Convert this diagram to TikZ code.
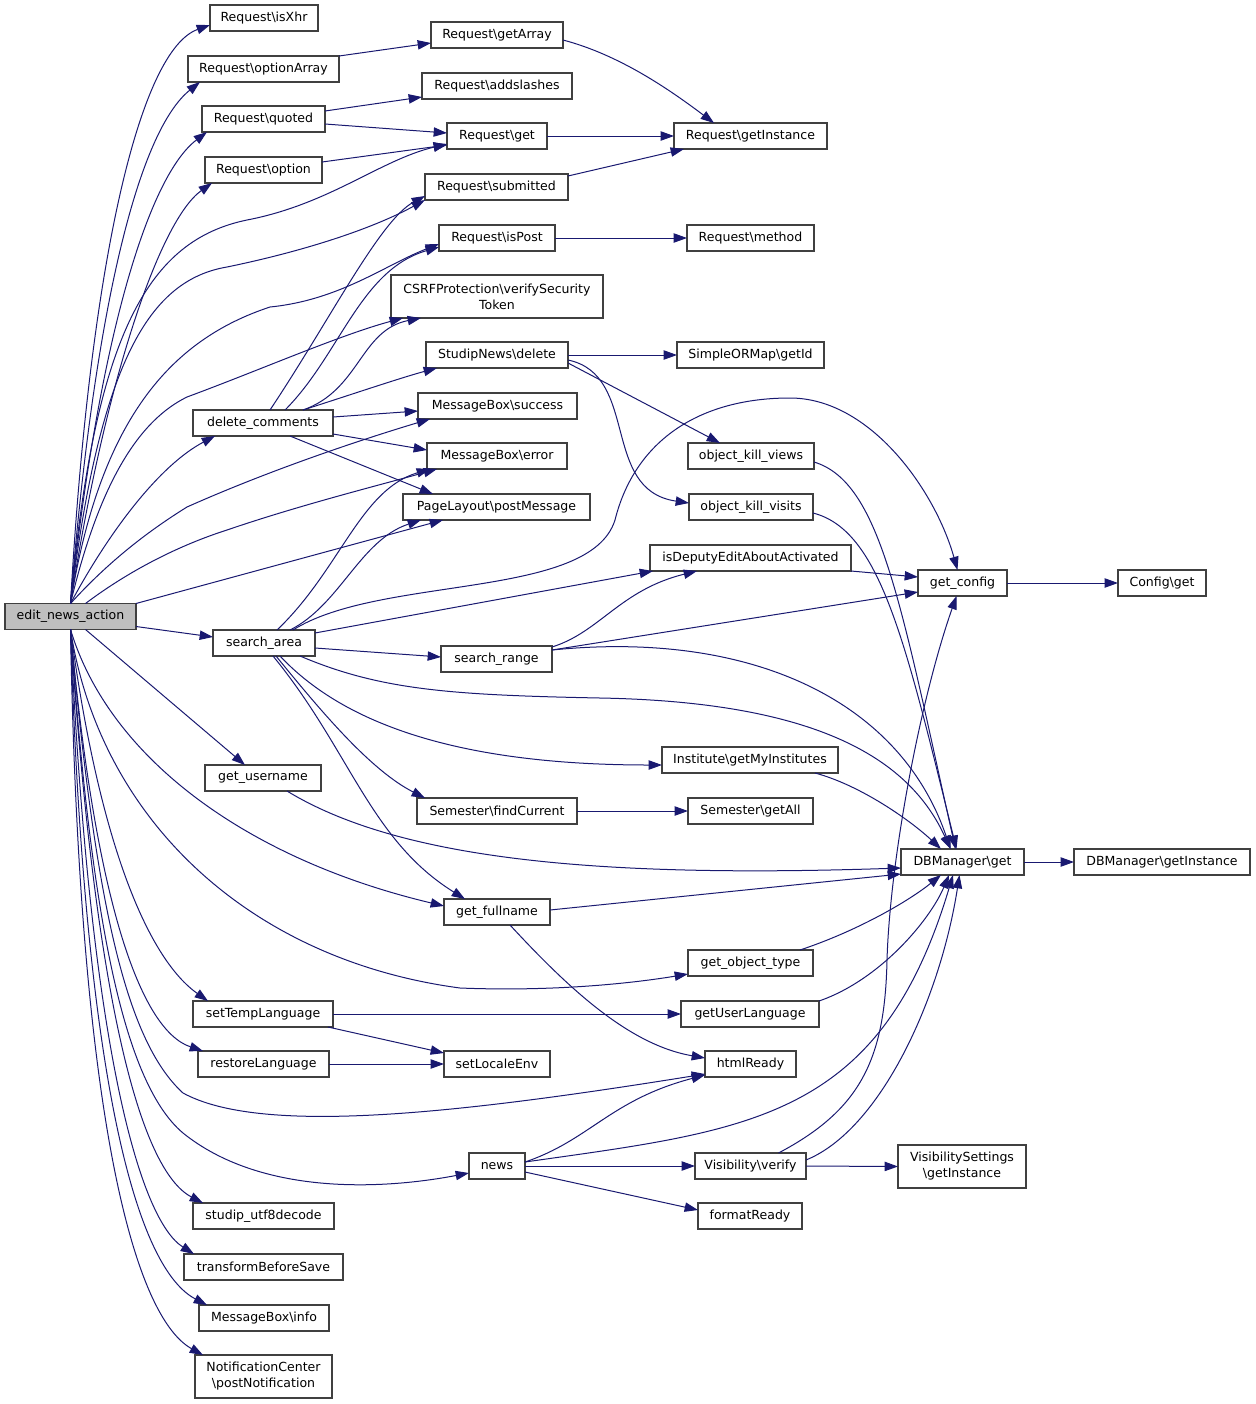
\documentclass[tikz,border=0pt]{standalone}
\usepackage{fontspec}
\setmainfont{DejaVu Sans}
\usetikzlibrary{arrows.meta,calc}
\newlength{\pxu}\setlength{\pxu}{0.75pt}
\newcommand{\fnfont}{\fontsize{9.4}{12}\selectfont}
\definecolor{edgec}{HTML}{191970}
\definecolor{boxc}{HTML}{404040}
\definecolor{rootc}{HTML}{BFBFBF}
\tikzset{
  fn/.style={draw=boxc, fill=white, line width=0.8pt, inner sep=0pt, outer sep=0pt,
    minimum height=26\pxu, font=\fnfont, align=center},
  fn2/.style={fn, minimum height=43\pxu},
  ed/.style={draw=edgec, line width=0.75pt, -{Triangle[length=10pt,width=7pt]}}
}
\begin{document}
\begin{tikzpicture}[x=0.75pt, y=-0.75pt]
\path[use as bounding box] (0,0) rectangle (1256,1404);
% nodes
\node[fn, fill=rootc, minimum width=131\pxu] (ena) at (70.5,616.5) {edit\_news\_action};
\node[fn, minimum width=108\pxu] (isxhr) at (264,18) {Request\textbackslash isXhr};
\node[fn, minimum width=151\pxu] (opta) at (263.5,69) {Request\textbackslash optionArray};
\node[fn, minimum width=132\pxu] (garr) at (497,35) {Request\textbackslash getArray};
\node[fn, minimum width=150\pxu] (addsl) at (497,86) {Request\textbackslash addslashes};
\node[fn, minimum width=123\pxu] (quoted) at (263.5,119) {Request\textbackslash quoted};
\node[fn, minimum width=100\pxu] (rget) at (497,136) {Request\textbackslash get};
\node[fn, minimum width=153\pxu] (rgi) at (750.5,136) {Request\textbackslash getInstance};
\node[fn, minimum width=117\pxu] (option) at (263.5,170) {Request\textbackslash option};
\node[fn, minimum width=143\pxu] (subm) at (496.5,187) {Request\textbackslash submitted};
\node[fn, minimum width=116\pxu] (ispost) at (497,238) {Request\textbackslash isPost};
\node[fn, minimum width=127\pxu] (method) at (750.5,238) {Request\textbackslash method};
\node[fn2, minimum width=212\pxu] (csrf) at (497,296.5) {CSRFProtection\textbackslash verifySecurity\\Token};
\node[fn, minimum width=142\pxu] (snd) at (497,355) {StudipNews\textbackslash delete};
\node[fn, minimum width=147\pxu] (getid) at (750.5,355) {SimpleORMap\textbackslash getId};
\node[fn, minimum width=140\pxu] (dc) at (263,423) {delete\_comments};
\node[fn, minimum width=159\pxu] (succ) at (497.5,406) {MessageBox\textbackslash success};
\node[fn, minimum width=140\pxu] (err) at (497,456) {MessageBox\textbackslash error};
\node[fn, minimum width=187\pxu] (pm) at (496.5,507) {PageLayout\textbackslash postMessage};
\node[fn, minimum width=126\pxu] (okv) at (751,456) {object\_kill\_views};
\node[fn, minimum width=124\pxu] (okvi) at (751,507) {object\_kill\_visits};
\node[fn, minimum width=201\pxu] (ida) at (750.5,558) {isDeputyEditAboutActivated};
\node[fn, minimum width=89\pxu] (gc) at (962.5,583) {get\_config};
\node[fn, minimum width=88\pxu] (cfg) at (1162,583) {Config\textbackslash get};
\node[fn, minimum width=102\pxu] (sa) at (264,643) {search\_area};
\node[fn, minimum width=111\pxu] (sr) at (496.5,659) {search\_range};
\node[fn, minimum width=176\pxu] (inst) at (750,760) {Institute\textbackslash getMyInstitutes};
\node[fn, minimum width=116\pxu] (gu) at (263,778) {get\_username};
\node[fn, minimum width=160\pxu] (sfc) at (497,811) {Semester\textbackslash findCurrent};
\node[fn, minimum width=125\pxu] (sga) at (750.5,811) {Semester\textbackslash getAll};
\node[fn, minimum width=123\pxu] (dbm) at (962.5,862) {DBManager\textbackslash get};
\node[fn, minimum width=176\pxu] (dbgi) at (1162,862) {DBManager\textbackslash getInstance};
\node[fn, minimum width=106\pxu] (gf) at (497,912) {get\_fullname};
\node[fn, minimum width=125\pxu] (got) at (750.5,963) {get\_object\_type};
\node[fn, minimum width=140\pxu] (stl) at (263,1014) {setTempLanguage};
\node[fn, minimum width=138\pxu] (gul) at (750,1014) {getUserLanguage};
\node[fn, minimum width=131\pxu] (rl) at (263.5,1064) {restoreLanguage};
\node[fn, minimum width=106\pxu] (sle) at (497,1064) {setLocaleEnv};
\node[fn, minimum width=91\pxu] (hr) at (750.5,1064) {htmlReady};
\node[fn, minimum width=56\pxu] (news) at (497,1166) {news};
\node[fn, minimum width=111\pxu] (vv) at (750.5,1166) {Visibility\textbackslash verify};
\node[fn2, minimum width=128\pxu] (vs) at (962,1166.5) {VisibilitySettings\\\textbackslash getInstance};
\node[fn, minimum width=104\pxu] (fr) at (750,1216) {formatReady};
\node[fn, minimum width=141\pxu] (utf) at (263.5,1216) {studip\_utf8decode};
\node[fn, minimum width=159\pxu] (tbs) at (263.5,1267) {transformBeforeSave};
\node[fn, minimum width=130\pxu] (info) at (264,1318) {MessageBox\textbackslash info};
\node[fn2, minimum width=137\pxu] (nc) at (263.5,1376.5) {NotificationCenter\\\textbackslash postNotification};
% edges from edit_news_action (upwards)
\draw[ed] (ena.north) .. controls (90,260) and (140,50) .. ($(isxhr.west)+(0,7)$);
\draw[ed] (ena.north) .. controls (95,300) and (140,130) .. ($(opta.south west)+(12,0)$);
\draw[ed] (ena.north) .. controls (100,330) and (150,175) .. ($(quoted.south west)+(5,0)$);
\draw[ed] (ena.north) .. controls (105,380) and (160,220) .. ($(option.south west)+(7,0)$);
\draw[ed] (ena.north) .. controls (95,330) and (150,240) .. (247,220) .. controls (330,204) and (380,160) .. ($(rget.west)+(0,8)$);
\draw[ed] (ena.north) .. controls (100,360) and (150,280) .. (227,267) .. controls (300,252) and (370,230) .. (subm.south west);
\draw[ed] (ena.north) .. controls (100,420) and (170,340) .. (270,307) .. controls (340,300) and (385,265) .. ($(ispost.west)+(0,6)$);
\draw[ed] (ena.north) .. controls (100,480) and (140,420) .. (187,397) .. controls (260,370) and (340,335) .. ($(csrf.south west)+(12,0)$);
\draw[ed] (ena.north) .. controls (110,530) and (160,465) .. ($(dc.south west)+(22,0)$);
\draw[ed] (ena.north) .. controls (110,560) and (150,530) .. (187,507) .. controls (270,470) and (360,440) .. ($(succ.south west)+(12,0)$);
\draw[ed] ($(ena.north)+(15,0)$) .. controls (130,570) and (180,545) .. (227,530) .. controls (300,505) and (380,485) .. ($(err.south west)+(10,0)$);
\draw[ed] (ena.north east) -- ($(pm.south west)+(40,0)$);
\draw[ed] ($(ena.east)+(0,10)$) -- ($(sa.west)+(0,-6)$);
% edges from edit_news_action (downwards)
\draw[ed] ($(ena.south)+(15,0)$) -- ($(gu.north)+(-18,0)$);
\draw[ed] (ena.south) .. controls (110,760) and (250,860) .. ($(gf.west)+(0,-6)$);
\draw[ed] (ena.south) .. controls (100,820) and (250,960) .. (460,988) .. controls (560,992) and (640,982) .. ($(got.west)+(0,11)$);
\draw[ed] (ena.south) .. controls (100,850) and (150,960) .. ($(stl.north west)+(15,0)$);
\draw[ed] (ena.south) .. controls (95,900) and (140,1030) .. ($(rl.north west)+(5,0)$);
\draw[ed] (ena.south) .. controls (95,900) and (125,1040) .. (183,1093) .. controls (260,1135) and (450,1115) .. ($(hr.west)+(0,10)$);
\draw[ed] (ena.south) .. controls (90,900) and (120,1080) .. (183,1133) .. controls (260,1195) and (380,1190) .. ($(news.west)+(0,7)$);
\draw[ed] (ena.south) .. controls (95,1000) and (140,1170) .. ($(utf.north west)+(10,0)$);
\draw[ed] (ena.south) .. controls (90,1050) and (140,1220) .. ($(tbs.north west)+(10,0)$);
\draw[ed] (ena.south) .. controls (85,1100) and (140,1270) .. ($(info.north west)+(8,0)$);
\draw[ed] (ena.south) .. controls (80,1150) and (140,1320) .. ($(nc.north west)+(8,0)$);
% Request group
\draw[ed] (opta.north east) -- ($(garr.west)+(0,8)$);
\draw[ed] ($(garr.east)+(0,5)$) .. controls (620,55) and (670,90) .. ($(rgi.north west)+(40,0)$);
\draw[ed] ($(quoted.north east)+(0,5)$) -- ($(addsl.west)+(0,11)$);
\draw[ed] ($(quoted.east)+(0,5)$) -- ($(rget.west)+(0,-3)$);
\draw[ed] ($(option.east)+(0,-8)$) -- ($(rget.west)+(0,9)$);
\draw[ed] (rget.east) -- (rgi.west);
\draw[ed] ($(subm.north east)+(0,2)$) -- ($(rgi.south west)+(10,0)$);
\draw[ed] (ispost.east) -- (method.west);
% delete_comments
\draw[ed] ($(dc.north)+(7,0)$) .. controls (330,320) and (380,220) .. ($(subm.west)+(0,9)$);
\draw[ed] ($(dc.north)+(22,0)$) .. controls (340,355) and (360,270) .. ($(ispost.west)+(0,9)$);
\draw[ed] ($(dc.north)+(40,0)$) .. controls (360,390) and (360,330) .. ($(csrf.south west)+(30,0)$);
\draw[ed] ($(dc.north)+(40,0)$) .. controls (350,395) and (400,378) .. ($(snd.south west)+(11,0)$);
\draw[ed] ($(dc.east)+(0,-6)$) -- ($(succ.west)+(0,5)$);
\draw[ed] ($(dc.east)+(0,11)$) -- ($(err.west)+(0,-6)$);
\draw[ed] ($(dc.south)+(27,0)$) -- ($(pm.north west)+(30,0)$);
% StudipNews\delete
\draw[ed] (snd.east) -- (getid.west);
\draw[ed] ($(snd.east)+(0,8)$) -- ($(okv.north west)+(32,0)$);
\draw[ed] ($(snd.east)+(0,5)$) .. controls (640,375) and (600,490) .. ($(okvi.west)+(0,-4)$);
\draw[ed] ($(okv.east)+(0,6)$) .. controls (880,482) and (900,600) .. ($(dbm.north)+(-7,0)$);
\draw[ed] ($(okvi.east)+(0,6)$) .. controls (880,530) and (905,640) .. ($(dbm.north)+(-6,0)$);
\draw[ed] (ida.south east) -- ($(gc.west)+(0,-6)$);
% search_area
\draw[ed] ($(sa.north)+(13,0)$) .. controls (340,570) and (360,490) .. ($(err.south west)+(3,0)$);
\draw[ed] ($(sa.north)+(26,0)$) .. controls (340,605) and (360,540) .. ($(pm.south west)+(18,0)$);
\draw[ed] ($(sa.north)+(29,0)$) .. controls (380,575) and (590,600) .. (615,520) .. controls (635,440) and (700,398) .. (790,398) .. controls (870,398) and (935,490) .. ($(gc.north)+(-5,0)$);
\draw[ed] ($(sa.east)+(0,-10)$) -- ($(ida.south west)+(3,0)$);
\draw[ed] ($(sa.east)+(0,5)$) -- ($(sr.west)+(0,-2)$);
\draw[ed] ($(sa.south)+(36,0)$) .. controls (380,690) and (450,695) .. (600,698) .. controls (820,702) and (910,760) .. ($(dbm.north)+(-12,0)$);
\draw[ed] ($(sa.south)+(16,0)$) .. controls (340,720) and (450,765) .. ($(inst.west)+(0,5)$);
\draw[ed] ($(sa.south)+(12,0)$) .. controls (320,710) and (370,770) .. ($(sfc.north west)+(8,0)$);
\draw[ed] ($(sa.south)+(9,0)$) .. controls (350,750) and (370,840) .. ($(gf.north)+(-32,0)$);
% search_range
\draw[ed] ($(sr.north east)+(0,1)$) .. controls (600,632) and (620,590) .. ($(ida.south west)+(47,0)$);
\draw[ed] ($(sr.east)+(0,-9)$) -- ($(gc.west)+(0,9)$);
\draw[ed] ($(sr.east)+(0,-9)$) .. controls (750,630) and (900,700) .. ($(dbm.north)+(-12,0)$);
% others
\draw[ed] (gc.east) -- (cfg.west);
\draw[ed] ($(inst.south east)+(-23,0)$) .. controls (860,785) and (910,820) .. ($(dbm.north west)+(40,0)$);
\draw[ed] (sfc.east) -- (sga.west);
\draw[ed] ($(gu.south)+(24,0)$) .. controls (400,860) and (600,878) .. ($(dbm.west)+(0,6)$);
\draw[ed] ($(gf.east)+(0,-2)$) -- ($(dbm.west)+(0,12)$);
\draw[ed] (dbm.east) -- (dbgi.west);
\draw[ed] ($(gf.south)+(13,0)$) .. controls (570,990) and (630,1045) .. ($(hr.west)+(0,-6)$);
\draw[ed] ($(got.north east)+(-13,0)$) .. controls (860,930) and (910,900) .. ($(dbm.south west)+(40,0)$);
\draw[ed] (stl.east) -- (gul.west);
\draw[ed] ($(stl.south east)+(-5,0)$) -- ($(sle.west)+(0,-11)$);
\draw[ed] ($(gul.east)+(0,-13)$) .. controls (880,980) and (930,920) .. ($(dbm.south west)+(48,0)$);
\draw[ed] (rl.east) -- (sle.west);
\draw[ed] ($(news.east)+(0,-4)$) .. controls (590,1140) and (610,1100) .. ($(hr.west)+(0,11)$);
\draw[ed] ($(news.east)+(0,-4)$) .. controls (750,1130) and (880,1120) .. ($(dbm.south west)+(52,0)$);
\draw[ed] (news.east) -- (vv.west);
\draw[ed] ($(news.east)+(0,6)$) -- ($(fr.west)+(0,-6)$);
\draw[ed] (vv.east) -- (vs.west);
\draw[ed] ($(vv.north)+(28,0)$) .. controls (860,1110) and (885,1060) .. (887,960) .. controls (890,860) and (920,700) .. ($(gc.south)+(-6,0)$);
\draw[ed] ($(vv.east)+(0,-6)$) .. controls (880,1130) and (940,1000) .. ($(dbm.south)+(-3,0)$);
\end{tikzpicture}
\end{document}
